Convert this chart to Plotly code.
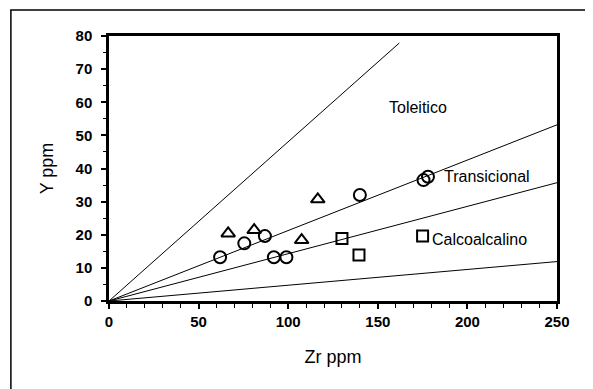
import plotly.graph_objects as go

# Data
circ_zr = [62, 75.5, 87, 92, 99, 140, 175.5, 178]
circ_y = [13.2, 17.4, 19.6, 13.2, 13.2, 32.0, 36.5, 37.5]
tri_zr = [66.5, 81, 107.5, 116.5]
tri_y = [20.4, 21.4, 18.4, 30.7]
sq_zr = [130, 139.5, 175]
sq_y = [18.9, 13.9, 19.6]

# Discriminant lines (Zr/Y ratio) and their end abscissa
line_ratio = [2.08, 4.7, 7.0, 21.0]
line_xend = [162, 250, 250, 250]

field_names = ["Toleitico", "Transicional", "Calcoalcalino"]
field_x = [172.5, 186, 179]
field_y = [58.3, 37.5, 18.6]

x_ticks = [0, 50, 100, 150, 200, 250]
y_ticks = [0, 10, 20, 30, 40, 50, 60, 70, 80]

fig = go.Figure()

for r, xe in zip(line_ratio, line_xend):
    fig.add_trace(go.Scatter(x=[0, xe], y=[0, xe / r], mode="lines",
                             line=dict(color="black", width=1), showlegend=False,
                             hoverinfo="skip"))

mk_line = dict(color="black", width=2)
fig.add_trace(go.Scatter(x=circ_zr, y=circ_y, mode="markers", showlegend=False,
                         marker=dict(symbol="circle-open", size=12, color="black", line=mk_line)))
fig.add_trace(go.Scatter(x=tri_zr, y=tri_y, mode="markers", showlegend=False,
                         marker=dict(symbol="triangle-up-open", size=12, color="black", line=mk_line)))
fig.add_trace(go.Scatter(x=sq_zr, y=sq_y, mode="markers", showlegend=False,
                         marker=dict(symbol="square-open", size=11, color="black", line=mk_line)))

anchors = ["center", "left", "left"]
for name, x, y, a in zip(field_names, field_x, field_y, anchors):
    fig.add_annotation(x=x, y=y, text=name, showarrow=False, xanchor=a, yanchor="middle",
                       font=dict(family="Arial", size=16, color="black"))

# outer frame
fig.add_shape(type="rect", xref="paper", yref="paper", x0=-0.219, x1=1.067, y0=-0.4, y1=1.098,
              line=dict(color="black", width=1.5))

fig.update_xaxes(range=[0, 250], tickvals=x_ticks, ticktext=["<b>%d</b>" % v for v in x_ticks],
                 showgrid=False, zeroline=False, showline=True, linecolor="black", linewidth=2.5,
                 mirror=True, ticks="outside", ticklen=5, tickwidth=1.5, tickcolor="black",
                 minor=dict(dtick=10, ticks="outside", ticklen=4, tickcolor="black", tickwidth=1),
                 tickfont=dict(family="Arial", size=15, color="black"),
                 title=dict(text="Zr ppm", font=dict(family="Arial", size=18, color="black"), standoff=22))
fig.update_yaxes(range=[0, 80], tickvals=y_ticks, ticktext=["<b>%d</b>" % v for v in y_ticks],
                 showgrid=False, zeroline=False, showline=True, linecolor="black", linewidth=2.5,
                 mirror=True, ticks="outside", ticklen=5, tickwidth=1.5, tickcolor="black",
                 minor=dict(dtick=5, ticks="outside", ticklen=3, tickcolor="black", tickwidth=1),
                 tickfont=dict(family="Arial", size=15, color="black"), ticklabelstandoff=6,
                 title=dict(text="Y ppm", font=dict(family="Arial", size=18, color="black"), standoff=18))

fig.update_layout(width=585, height=381, margin=dict(l=101, r=36, t=28, b=88),
                  plot_bgcolor="white", paper_bgcolor="white")

fig.write_html("out.html")
